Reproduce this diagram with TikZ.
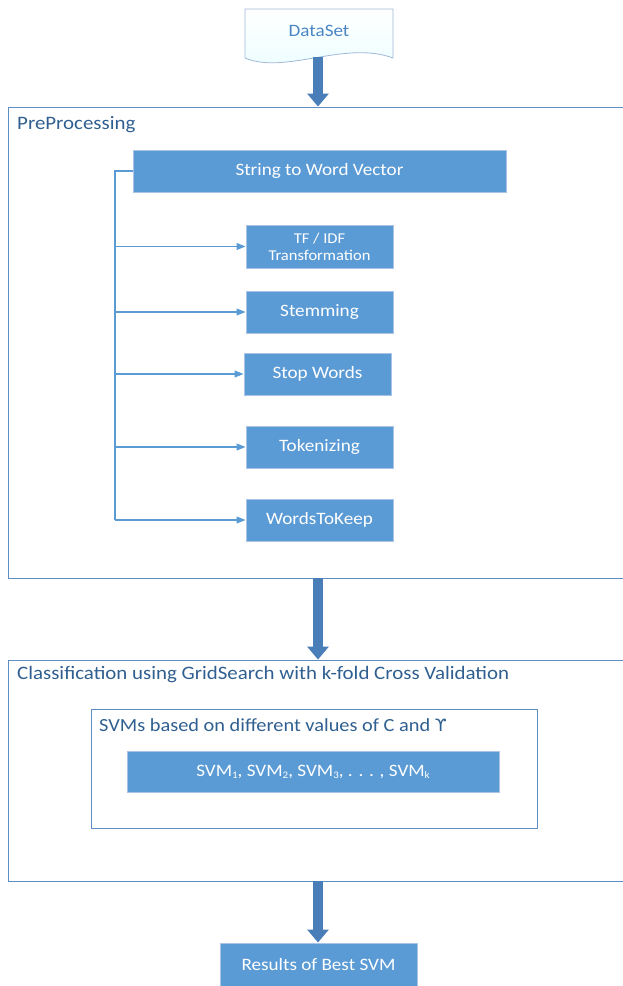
\documentclass[tikz,border=0pt]{standalone}
\usepackage{fontspec}
\setmainfont{Carlito}[FakeStretch=1.1]
\newfontfamily\symfont{DejaVu Sans}
\usetikzlibrary{arrows.meta,calc}
\definecolor{boxfill}{HTML}{5B9BD5}
\definecolor{boxborder}{HTML}{A9C4E4}
\definecolor{framecol}{HTML}{5E8EC4}
\definecolor{labelcol}{HTML}{2F5F90}
\definecolor{arrowblue}{HTML}{4A7EB8}
\definecolor{conncol}{HTML}{5B9BD5}
\definecolor{docborder}{HTML}{A0B8D8}
\definecolor{doctext}{HTML}{4A86C5}
\newcommand{\lowsub}[1]{\raisebox{-0.12em}{\fontsize{10}{11}\selectfont #1}}
\begin{document}
\begin{tikzpicture}[x=1pt,y=-1pt,
  stepbox/.style={rectangle, fill=boxfill, draw=boxborder, line width=1pt, text=white, inner sep=0pt, align=center, font=\fontsize{17.4}{19}\selectfont},
  frame/.style={rectangle, draw=framecol, line width=0.9pt, inner sep=0pt},
  framelabel/.style={anchor=west, text=labelcol, inner sep=0pt, font=\fontsize{19}{21}\selectfont},
  bigarrow/.style={draw=arrowblue, line width=10pt, -{Triangle[width=21pt,length=13pt]}},
  conn/.style={draw=conncol, line width=1.1pt},
  connarrow/.style={conn, -{Triangle[width=7pt,length=9pt]}}
]
\useasboundingbox (0,0) rectangle (623,986);
% DataSet document shape
\shade[top color=white, bottom color=blue!4!cyan!8!white, draw=docborder, line width=0.8pt]
  (245,9) -- (393,9) -- (393,58) .. controls (345,40) and (285,75) .. (245,58) -- cycle;
\node[text=doctext, font=\fontsize{17.4}{19}\selectfont, inner sep=0pt] (data) at (319,31) {DataSet};
\coordinate (datab) at (318,57);

% PreProcessing frame
\node[frame, minimum width=615pt, minimum height=471pt] (pre) at (315.5,342.5) {};
\node[framelabel] (prelabel) at (17,125) {PreProcessing};

\node[stepbox, minimum width=373pt, minimum height=42pt] (stw) at (319.5,171) {String to Word Vector};
\node[stepbox, minimum width=147pt, minimum height=43pt, font=\fontsize{15}{17}\selectfont] (tfidf) at (319.5,246.5) {TF / IDF\\Transformation};
\node[stepbox, minimum width=147pt, minimum height=42pt] (stem) at (319.5,312) {Stemming};
\node[stepbox, minimum width=147pt, minimum height=42pt] (stop) at (317.5,374) {Stop Words};
\node[stepbox, minimum width=147pt, minimum height=42pt] (tok) at (319.5,447) {Tokenizing};
\node[stepbox, minimum width=147pt, minimum height=42pt] (wtk) at (319.5,520) {WordsToKeep};

\coordinate (trunk) at (115,171);
\draw[conn] (stw.west) -- (trunk) -- (trunk |- wtk.west);
\draw[connarrow] (trunk |- tfidf.west) -- (tfidf.west);
\draw[connarrow] (trunk |- stem.west) -- (stem.west);
\draw[connarrow] (trunk |- stop.west) -- (stop.west);
\draw[connarrow] (trunk |- tok.west) -- (tok.west);
\draw[connarrow] (trunk |- wtk.west) -- (wtk.west);

% Classification frame
\node[frame, minimum width=615pt, minimum height=221pt] (cls) at (315.5,770.5) {};
\node[framelabel] (clslabel) at (17,675) {Classification using GridSearch with k-fold Cross Validation};
\node[frame, minimum width=446pt, minimum height=119pt] (svms) at (314,768.5) {};
\node[framelabel, font=\fontsize{18.5}{21}\selectfont] (svmslabel) at (99,725) {SVMs based on different values of C and {\symfont\fontsize{17}{19}\selectfont ϒ}};
\node[stepbox, minimum width=372pt, minimum height=41pt] (svmk) at (313,771.5) {SVM\lowsub{1}, SVM\lowsub{2}, SVM\lowsub{3}, . . . , SVM\lowsub{k}};

% Results
\node[stepbox, minimum width=197pt, minimum height=44pt] (res) at (318.5,965) {Results of Best SVM};

% Big arrows
\draw[bigarrow] (datab) -- (datab |- pre.north);
\draw[bigarrow] (datab |- pre.south) -- (datab |- cls.north);
\draw[bigarrow] (datab |- cls.south) -- (datab |- res.north);
\end{tikzpicture}
\end{document}
